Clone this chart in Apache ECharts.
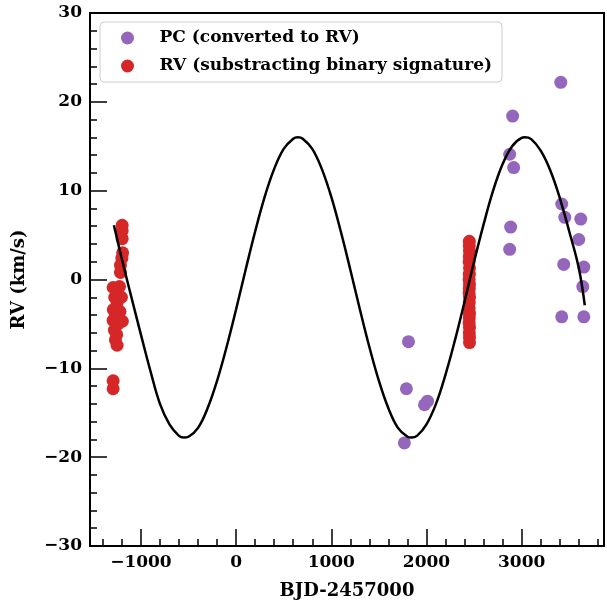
<!DOCTYPE html>
<html>
<head>
<meta charset="utf-8">
<script src="https://cdn.jsdelivr.net/npm/echarts@6/dist/echarts.min.js"></script>
<style>html,body{margin:0;padding:0;background:#fff;}#c{width:607px;height:605px;}</style>
</head>
<body>
<div id="c"></div>
<script>
// PC converted to RV (purple)
const pcX = [1768, 1789, 1811, 1979, 2011, 2874, 2905, 2916, 2884, 2874, 3411, 3421, 3453, 3442, 3421, 3621, 3600, 3653, 3642, 3653];
const pcY = [-18.4, -12.3, -7.0, -14.1, -13.7, 14.1, 18.4, 12.6, 5.9, 3.4, 22.2, 8.5, 7.0, 1.7, -4.2, 6.8, 4.5, 1.4, -0.8, -4.2];
// RV subtracting binary signature (red)
const rvX = [-1197, -1197, -1197, -1192, -1200, -1215, -1215, -1292, -1225, -1275, -1205, -1250, -1290, -1220, -1260, -1292, -1195, -1240, -1278, -1255, -1268, -1250, -1292, -1292,
             2450, 2450, 2452, 2450, 2448, 2452, 2450, 2448, 2452, 2450, 2448, 2452, 2450, 2448, 2452, 2450, 2448, 2452, 2450, 2452, 2452];
const rvY = [6.1, 5.5, 4.6, 3.0, 2.4, 1.6, 0.8, -0.9, -0.8, -2.0, -2.0, -2.6, -3.4, -3.6, -4.0, -4.6, -4.7, -5.0, -5.7, -6.2, -6.8, -7.4, -11.4, -12.3,
             4.3, 3.8, 3.2, 2.6, 2.0, 1.3, 0.6, 0.0, -0.5, -1.0, -1.5, -2.0, -2.6, -3.2, -3.8, -4.3, -4.9, -5.4, -6.0, -6.5, -7.1];
// Model curve (black)
const curveX = [-1284, -1200, -1100, -1000, -900, -800, -700, -600, -550, -500, -400, -300, -200, -100, 0, 100, 200, 300, 400, 500, 600, 650, 700, 800, 900, 1000, 1100, 1200, 1300, 1400, 1500, 1600, 1700, 1800, 1840, 1900, 2000, 2100, 2200, 2300, 2400, 2500, 2600, 2700, 2800, 2900, 3000, 3030, 3100, 3200, 3300, 3400, 3500, 3600, 3663];
const curveY = [6.1, 2.3, -2.0, -6.2, -10.3, -14.0, -16.3, -17.6, -17.8, -17.7, -16.7, -14.5, -11.4, -7.6, -3.35, 1.1, 5.4, 9.3, 12.45, 14.7, 15.85, 16.0, 15.85, 14.7, 12.45, 9.3, 5.4, 1.1, -3.35, -7.6, -11.4, -14.5, -16.7, -17.7, -17.8, -17.6, -16.3, -14.0, -10.7, -6.8, -2.5, 2.0, 6.2, 10.0, 13.0, 15.0, 15.95, 16.0, 15.8, 14.5, 12.3, 9.2, 5.4, 1.3, -2.9];
const xMajor = [-1000, 0, 1000, 2000, 3000];
const xMinor = [-1400, -1200, -800, -600, -400, -200, 200, 400, 600, 800, 1200, 1400, 1600, 1800, 2200, 2400, 2600, 2800, 3200, 3400, 3600, 3800];

const FONT = 'DejaVu Serif';
const minus = v => String(v).replace('-', '\u2212');
const chart = echarts.init(document.getElementById('c'));
const xBase = {
  type: 'value', min: -1535, max: 3865, position: 'bottom',
  splitLine: {show: false},
  axisLine: {show: true, onZero: false, lineStyle: {color: '#000', width: 2}}
};
chart.setOption({
  animation: false,
  grid: {left: 90, right: 3, top: 13, bottom: 55, show: true, borderColor: '#000', borderWidth: 2, containLabel: false},
  legend: {
    orient: 'vertical', left: 100, top: 22, padding: [6, 10, 6, 21],
    itemWidth: 54, itemHeight: 13, itemGap: 8,
    backgroundColor: '#fff', borderColor: '#cccccc', borderWidth: 1, borderRadius: 4,
    textStyle: {fontFamily: FONT, fontWeight: 'bold', fontSize: 17, color: '#000', lineHeight: 20},
    data: [{name: 'PC (converted to RV)', icon: 'circle'}, {name: 'RV (substracting binary signature)', icon: 'circle'}]
  },
  xAxis: [
    Object.assign({}, xBase, {
      name: 'BJD-2457000', nameLocation: 'middle', nameGap: 36,
      nameTextStyle: {fontFamily: FONT, fontWeight: 'bold', fontSize: 18, color: '#000'},
      axisTick: {show: true, inside: true, length: 17, lineStyle: {color: '#000', width: 1.5}, customValues: xMajor},
      axisLabel: {show: true, margin: 8, fontFamily: FONT, fontWeight: 'bold', fontSize: 17, color: '#000', customValues: xMajor, formatter: minus}
    }),
    Object.assign({}, xBase, {
      axisTick: {show: true, inside: true, length: 7, lineStyle: {color: '#000', width: 1.5}, customValues: xMinor},
      axisLabel: {show: false}
    })
  ],
  yAxis: {
    type: 'value', min: -30, max: 30, interval: 10,
    name: 'RV (km/s)', nameLocation: 'middle', nameGap: 62,
    nameTextStyle: {fontFamily: FONT, fontWeight: 'bold', fontSize: 18, color: '#000'},
    splitLine: {show: false},
    axisLine: {show: true, onZero: false, lineStyle: {color: '#000', width: 2}},
    axisTick: {show: true, inside: true, length: 17, lineStyle: {color: '#000', width: 1.5}},
    minorTick: {show: true, splitNumber: 5, length: 7, lineStyle: {color: '#000', width: 1.5}},
    axisLabel: {margin: 8, fontFamily: FONT, fontWeight: 'bold', fontSize: 17, color: '#000', formatter: minus}
  },
  series: [
    {name: 'PC (converted to RV)', type: 'scatter', symbolSize: 13, itemStyle: {color: '#9467bd', opacity: 1},
     data: pcX.map((x, i) => [x, pcY[i]]), z: 2},
    {name: 'RV (substracting binary signature)', type: 'scatter', symbolSize: 13, itemStyle: {color: '#d62728', opacity: 1},
     data: rvX.map((x, i) => [x, rvY[i]]), z: 2},
    {name: 'model', type: 'line', showSymbol: false, symbol: 'none', smooth: 0.4,
     lineStyle: {color: '#000', width: 2.5}, data: curveX.map((x, i) => [x, curveY[i]]), z: 3}
  ]
});
</script>
</body>
</html>
